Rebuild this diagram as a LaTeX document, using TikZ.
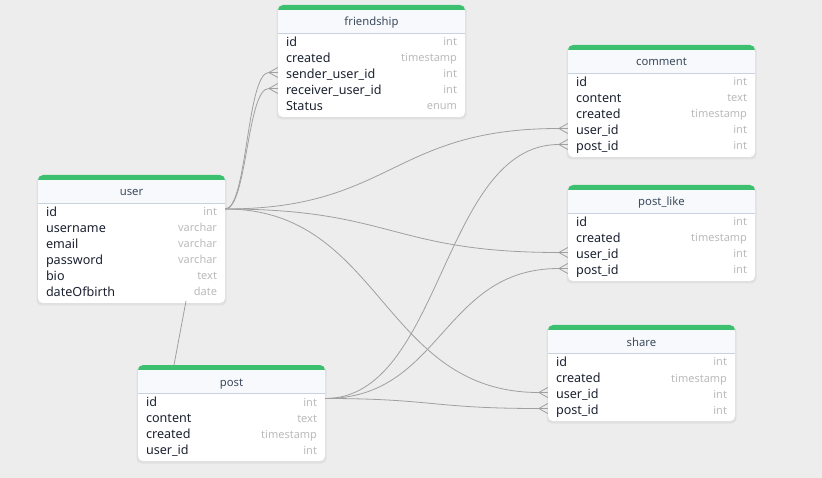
\documentclass[tikz,border=0pt]{standalone}
\usepackage{fontspec}
\setmainfont{Noto Sans}
\usetikzlibrary{calc}
\definecolor{bg}{HTML}{EDEDED}
\definecolor{tgreen}{HTML}{3CBF6F}
\definecolor{hdr}{HTML}{F7F9FC}
\definecolor{sepc}{HTML}{C9D3DF}
\definecolor{fcol}{HTML}{1A2130}
\definecolor{tcol}{HTML}{BBBBBB}
\definecolor{ttcol}{HTML}{3B4A5C}
\definecolor{lcol}{HTML}{A0A0A0}
\tikzset{
  ttitle/.style={font=\fontsize{11.3}{12}\selectfont, text=ttcol, inner sep=0, text height=8.5pt, text depth=2.5pt},
  rowbox/.style={rectangle, minimum width=187pt, minimum height=16pt, inner sep=0},
  fname/.style={font=\fontsize{12.6}{14}\selectfont, text=fcol, inner xsep=8pt, inner ysep=0, text height=9.5pt, text depth=3pt},
  ftype/.style={font=\fontsize{11}{12}\selectfont, text=tcol, inner xsep=8pt, inner ysep=0, text height=8.5pt, text depth=2.5pt},
  conn/.style={draw=lcol, line width=0.8pt},
  crowl/.style={draw=lcol, line width=0.8pt}
}
\newcommand\erdtable[6]{%
  \pgfmathsetmacro\erdbot{#3+37+16*(#6-1)+11}
  \fill[black,opacity=0.05,rounded corners=5pt] (#2-1.5,#3+1) rectangle (#2+188.5,\erdbot+2.5);
  \fill[white,rounded corners=5pt] (#2,#3) rectangle (#2+187,\erdbot);
  \fill[tgreen,rounded corners=5pt] (#2,#3) rectangle (#2+187,#3+12);
  \fill[hdr] (#2,#3+5) rectangle (#2+187,#3+28);
  \draw[sepc,line width=0.8pt] (#2,#3+28.5) -- (#2+187,#3+28.5);
  \node[ttitle] (#1) at (#2+93.5,#3+18) {#4};
  \foreach \f/\t [count=\i] in {#5} {
    \node[rowbox] (#1-\i) at (#2+93.5,#3+22+16*\i) {};
    \node[fname,anchor=west] (#1-\i-n) at (#1-\i.west) {\f};
    \node[ftype,anchor=east] (#1-\i-t) at (#1-\i.east) {\t};
  }
}
\newcommand\crow[2]{% #1 row node, #2 tip name
  \coordinate (#2) at ($(#1.west)+(-9,-2.5)$);
  \draw[crowl] ($(#1.west)+(0,-7.5)$) -- (#2) -- ($(#1.west)+(0,2.5)$);
  \draw[crowl] (#2) -- ($(#1.west)+(0,-2.5)$);
}
\begin{document}
\begin{tikzpicture}[x=1pt,y=-1pt]
\useasboundingbox (0,0) rectangle (822,478);
\fill[bg] (0,0) rectangle (822,478);

\erdtable{friendship}{278}{5}{friendship}{id/int,created/timestamp,sender\_user\_id/int,receiver\_user\_id/int,Status/enum}{5}
\erdtable{user}{38}{175}{user}{id/int,username/varchar,email/varchar,password/varchar,bio/text,dateOfbirth/date}{6}
\erdtable{post}{138}{365}{post}{id/int,content/text,created/timestamp,user\_id/int}{4}
\erdtable{comment}{568}{45}{comment}{id/int,content/text,created/timestamp,user\_id/int,post\_id/int}{5}
\erdtable{postlike}{568}{185}{post\_like}{id/int,created/timestamp,user\_id/int,post\_id/int}{4}
\erdtable{share}{548}{325}{share}{id/int,created/timestamp,user\_id/int,post\_id/int}{4}

\crow{friendship-3}{fs3}
\crow{friendship-4}{fs4}
\crow{comment-4}{cm4}
\crow{comment-5}{cm5}
\crow{postlike-3}{pl3}
\crow{postlike-4}{pl4}
\crow{share-3}{sh3}
\crow{share-4}{sh4}

\coordinate (uid) at ($(user-1.east)+(0,-4)$);
\coordinate (pid) at ($(post-1.east)+(0,-4.5)$);
\coordinate (ubot) at (186,301);
\coordinate (ptop) at (174,365);

\draw[conn] (uid) .. controls +(22,0) and +(-22,0) .. (fs3);
\draw[conn] (uid) .. controls +(22,0) and +(-22,0) .. (fs4);
\draw[conn] (uid) .. controls +(167,0) and +(-167,0) .. (cm4);
\draw[conn] (uid) .. controls +(167,0) and +(-167,0) .. (pl3);
\draw[conn] (uid) .. controls +(157,0) and +(-157,0) .. (sh3);
\draw[conn] (pid) .. controls +(117,0) and +(-117,0) .. (cm5);
\draw[conn] (pid) .. controls +(117,0) and +(-117,0) .. (pl4);
\draw[conn] (pid) .. controls +(107,0) and +(-107,0) .. (sh4);
\draw[conn] (ubot) -- (ptop);
\end{tikzpicture}
\end{document}
